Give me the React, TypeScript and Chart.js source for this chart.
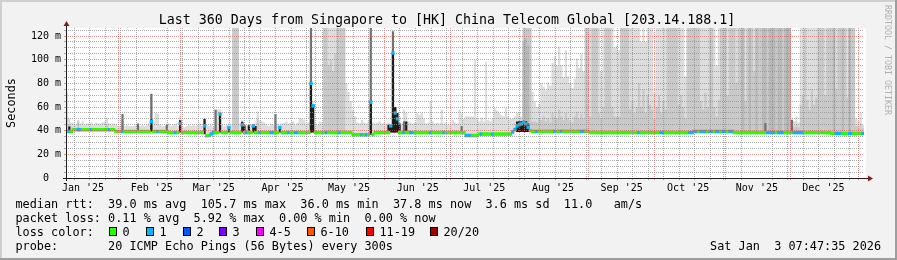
import React, { useEffect, useRef } from 'react';
import { Chart, registerables } from 'chart.js';

Chart.register(...registerables);

const W = 897;
const H = 260;
const DAYS = 360;
const START_UTC = Date.UTC(2025, 0, 8, 7, 47, 35);

const TITLE = 'Last 360 Days from Singapore to [HK] China Telecom Global [203.14.188.1]';
const Y_TICK_VALUES = [0, 20, 40, 60, 80, 100, 120];
const Y_TICK_LABELS = ['0  ', '20 m', '40 m', '60 m', '80 m', '100 m', '120 m'];
const MONTH_LABELS = ["Jan '25", "Feb '25", "Mar '25", "Apr '25", "May '25", "Jun '25",
  "Jul '25", "Aug '25", "Sep '25", "Oct '25", "Nov '25", "Dec '25"];

const LEGEND_RTT = 'median rtt:  39.0 ms avg  105.7 ms max  36.0 ms min  37.8 ms now  3.6 ms sd  11.0   am/s';
const LEGEND_LOSS = 'packet loss: 0.11 % avg  5.92 % max  0.00 % min  0.00 % now';
const LEGEND_PROBE = 'probe:       20 ICMP Echo Pings (56 Bytes) every 300s';
const STAMP = 'Sat Jan  3 07:47:35 2026';
const WATERMARK = 'RRDTOOL / TOBI OETIKER';
const LOSS_LABELS = ['0', '1', '2', '3', '4-5', '6-10', '11-19', '20/20'];
const LOSS_COLORS = ['#26ff00', '#00b8ff', '#0059ff', '#7e00ff', '#ff00ff', '#ff5500', '#ff0000', '#a10000'];

// baseline median rtt (ms): [firstDay, lastDay, value]
const MEDIAN_RUNS = [
  [0, 2, 39.4], [3, 21, 40.8], [22, 45, 39.3], [46, 61, 38.4], [62, 62, 37.0], [63, 63, 35.7],
  [64, 64, 35.9], [65, 65, 37.2], [66, 128, 38.4], [129, 138, 36.6], [139, 179, 38.4],
  [180, 185, 35.9], [186, 200, 37.1], [201, 209, 38.8], [210, 235, 39.4], [236, 282, 38.4],
  [283, 300, 39.3], [301, 344, 38.4], [345, 359, 37.6],
];
// days where the median mark sits above the baseline: [day, ms]
const MEDIAN_SHIFTS = [
  [38, 47.6], [51, 46.0], [62, 44.0], [69, 54.0], [73, 42.5], [79, 45.0], [84, 44.0], [96, 42.6],
  [110, 80.0], [111, 61.0], [137, 64.0], [146, 44.0], [147, 105.7], [148, 55.0], [149, 50.0],
  [202, 41.0], [203, 44.0], [204, 45.2], [205, 45.7], [206, 47.0], [207, 45.7], [208, 42.9], [209, 40.0],
];
// days with loss colour "1"
const LOSS1_DAYS = [
  1, 5, 6, 11, 19, 25, 38, 41, 49, 51, 62, 65, 66, 69, 73, 79, 81, 84, 87, 92, 93, 96, 100, 103, 104,
  110, 111, 117, 123, 133, 135, 137, 146, 147, 148, 149, 152, 155, 156, 164, 170, 180, 181, 182, 187,
  192, 201, 202, 203, 204, 205, 206, 207, 208, 212, 220, 223, 232, 233, 258, 268, 269, 281, 282, 283,
  284, 286, 287, 288, 290, 291, 293, 294, 296, 297, 299, 300, 316, 317, 318, 319, 321, 322, 323, 328,
  329, 330, 331, 332, 347, 348, 349, 353, 354, 359,
];

// outer (light) smoke top per day, ms (200 = beyond the top)
const SMOKE_LIGHT = [
  73, 50, 47, 46, 45, 49, 46, 48, 45, 46,
  46, 47, 45, 47, 46, 46, 47, 48, 51, 46,
  45, 46, 45, 44, 44, 48, 44, 45, 44, 44,
  44, 45, 46, 44, 45, 44, 45, 46, 72, 47,
  55, 54, 45, 44, 44, 46, 46, 44, 45, 46,
  44, 52, 44, 43, 44, 45, 44, 45, 44, 45,
  46, 44, 51, 45, 44, 45, 44, 58, 58, 58,
  45, 44, 45, 46, 45, 200, 200, 200, 46, 49,
  46, 45, 44, 45, 46, 47, 56, 49, 48, 47,
  45, 44, 46, 45, 54, 46, 45, 46, 47, 48,
  46, 47, 48, 45, 47, 51, 50, 49, 46, 47,
  80, 65, 46, 45, 48, 47, 200, 200, 200, 200,
  200, 200, 200, 200, 200, 200, 80, 73, 65, 58,
  52, 47, 46, 49, 47, 46, 48, 65, 47, 46,
  47, 48, 46, 47, 46, 47, 45, 106, 60, 55,
  52, 46, 58, 55, 48, 47, 46, 47, 55, 53,
  55, 50, 46, 47, 65, 48, 46, 47, 46, 58,
  46, 47, 45, 46, 49, 47, 46, 58, 55, 50,
  52, 52, 52, 52, 100, 50, 48, 51, 48, 98,
  49, 48, 50, 59, 57, 55, 53, 52, 59, 52,
  50, 50, 52, 55, 55, 52, 200, 200, 200, 200,
  73, 65, 60, 63, 80, 77, 74, 81, 78, 97,
  103, 95, 111, 95, 85, 108, 86, 80, 76, 84,
  101, 93, 105, 90, 200, 200, 200, 200, 200, 200,
  200, 90, 200, 200, 200, 200, 200, 110, 112, 108,
  200, 200, 200, 200, 200, 200, 200, 200, 200, 115,
  200, 115, 200, 200, 200, 72, 200, 200, 200, 200,
  200, 200, 200, 200, 200, 200, 200, 200, 200, 86,
  200, 200, 200, 200, 200, 200, 200, 200, 200, 200,
  200, 200, 200, 95, 200, 200, 200, 200, 200, 200,
  200, 200, 200, 200, 200, 200, 200, 200, 200, 200,
  200, 200, 200, 200, 200, 200, 200, 200, 200, 200,
  200, 200, 200, 200, 200, 200, 200, 50, 48, 52,
  47, 200, 200, 200, 200, 200, 200, 200, 200, 200,
  200, 200, 200, 200, 200, 200, 200, 200, 200, 200,
  200, 200, 200, 200, 200, 200, 50, 48, 55, 45,
];

// middle grey smoke top per day, ms (0 = none)
const SMOKE_MID = [
  52, 45, 43, 0, 0, 48, 0, 0, 0, 0,
  0, 0, 0, 0, 0, 0, 0, 0, 45, 0,
  0, 0, 0, 0, 0, 46, 0, 0, 0, 0,
  0, 0, 0, 0, 0, 0, 0, 0, 0, 0,
  0, 0, 0, 0, 0, 0, 0, 0, 0, 0,
  0, 0, 0, 0, 0, 0, 0, 0, 0, 0,
  0, 0, 0, 0, 0, 0, 0, 0, 0, 0,
  0, 0, 0, 0, 0, 200, 200, 200, 0, 0,
  0, 0, 0, 0, 0, 0, 50, 0, 0, 0,
  0, 0, 0, 0, 0, 0, 0, 0, 0, 0,
  0, 0, 0, 0, 0, 0, 0, 0, 0, 0,
  0, 0, 0, 0, 0, 0, 200, 200, 95, 100,
  90, 105, 200, 200, 200, 200, 0, 0, 0, 0,
  0, 0, 0, 0, 0, 0, 0, 0, 0, 0,
  0, 0, 0, 0, 0, 0, 0, 0, 0, 0,
  0, 0, 0, 0, 0, 0, 0, 0, 0, 0,
  0, 0, 0, 0, 0, 0, 0, 0, 0, 0,
  0, 0, 0, 0, 0, 0, 0, 0, 0, 0,
  0, 0, 0, 0, 0, 0, 0, 0, 0, 0,
  0, 0, 0, 0, 0, 0, 0, 0, 0, 0,
  0, 0, 0, 0, 0, 0, 200, 200, 200, 200,
  48, 48, 47, 50, 49, 52, 48, 50, 47, 55,
  52, 50, 58, 52, 49, 55, 50, 48, 47, 52,
  56, 50, 54, 50, 200, 200, 52, 200, 200, 200,
  55, 50, 60, 200, 200, 200, 60, 52, 52, 52,
  200, 200, 200, 200, 58, 65, 55, 60, 80, 60,
  75, 55, 70, 62, 58, 50, 60, 70, 55, 65,
  58, 200, 200, 200, 200, 200, 62, 70, 60, 50,
  200, 200, 200, 200, 200, 200, 65, 58, 72, 60,
  200, 200, 60, 52, 66, 200, 200, 200, 70, 200,
  200, 200, 80, 200, 200, 200, 65, 200, 200, 200,
  90, 200, 200, 200, 200, 200, 200, 200, 200, 200,
  200, 200, 200, 200, 200, 200, 200, 44, 43, 45,
  43, 62, 70, 200, 66, 58, 75, 62, 68, 200,
  200, 200, 70, 200, 200, 200, 200, 75, 200, 200,
  200, 200, 68, 200, 200, 200, 44, 43, 46, 42,
];

// darker grey smoke: [day, top ms]
const SMOKE_GREY = [
  [206, 115], [207, 118], [208, 112], [305, 200], [308, 200], [311, 200], [314, 200], [315, 200],
  [317, 200], [318, 200], [319, 200], [321, 200], [322, 200], [324, 200], [325, 200], [326, 200],
  [346, 200], [350, 200], [353, 200],
];
// thin dark spikes: [day, top ms]
const SMOKE_DARK = [
  [25, 54], [32, 46], [38, 71], [45, 45], [67, 57.7], [94, 54], [110, 130], [137, 130], [147, 124],
  [148, 60], [152, 48], [178, 44], [315, 46.5], [327, 49],
];
// black spikes: [day, top ms]
const SMOKE_BLACK = [
  [1, 43.5], [38, 49.5], [51, 49.0], [62, 49.8], [69, 54.5], [73, 43.6], [79, 47.6], [80, 44.4],
  [82, 44.5], [84, 45.0], [85, 44.0], [96, 43.6], [110, 80.0], [111, 62.0], [137, 64.7], [145, 45.0],
  [146, 44.5], [147, 105.7], [148, 60.0], [149, 55.0], [150, 46.0], [153, 47.8], [203, 47.8],
  [204, 48.0], [205, 48.0], [206, 48.5], [207, 48.0], [208, 46.0],
];

const BACK = '#f2f2f2';
const SHADE_A = '#cfcfcf';
const SHADE_B = '#9e9e9e';
const GRID = 'rgba(143,143,143,0.75)';
const MGRID = 'rgba(222,79,79,0.6)';
const AXIS = '#1f1f1f';
const ARROW = '#801f1f';
const MONO = '"DejaVu Sans Mono", monospace';
const BAND = 1.15;

function expandRuns(runs: number[][]) {
  const out = new Array(DAYS).fill(0);
  for (const [a, b, v] of runs) for (let d = a; d <= b; d++) out[d] = v;
  return out;
}
function sparseDays(list: number[][]) {
  const out = new Array(DAYS).fill(0);
  for (const [d, v] of list) out[d] = v;
  return out;
}
const dayOf = (y: number, m: number, d: number) => (Date.UTC(y, m, d) - START_UTC) / 86400000;

export default function App() {
  const ref = useRef<HTMLCanvasElement | null>(null);

  useEffect(() => {
    const canvas = ref.current;
    if (!canvas) return;

    const base = expandRuns(MEDIAN_RUNS);
    const median = base.slice();
    for (const [d, v] of MEDIAN_SHIFTS) median[d] = v;
    const loss = new Array(DAYS).fill(0);
    for (const d of LOSS1_DAYS) loss[d] = 1;

    const layer = (tops: number[]) => {
      const pts = tops.map((t, i) => ({ x: i, y: t > 0 ? Math.max(t, base[i]) : base[i] }));
      pts.push({ x: DAYS, y: pts[DAYS - 1].y });
      return pts;
    };
    const smoke = (label: string, tops: number[], color: string) => ({
      type: 'line' as const,
      label,
      data: layer(tops),
      stepped: true,
      borderColor: 'rgba(0,0,0,0)',
      borderWidth: 0,
      pointRadius: 0,
      pointHoverRadius: 0,
      backgroundColor: color,
      fill: 6,
      tension: 0,
    });

    // x axis ticks: weekly (Sunday) minor lines, month-start major lines, mid-month labels
    const kinds = new Map<number, string>();
    const labels = new Map<number, string>();
    for (let v = dayOf(2025, 0, 12); v < DAYS; v += 7) kinds.set(v, 'minor');
    for (let m = 1; m <= 12; m++) kinds.set(dayOf(2025, m, 1), 'major');
    MONTH_LABELS.forEach((lab, m) => {
      const v = dayOf(2025, m, 16);
      kinds.set(v, 'label');
      labels.set(v, lab);
    });
    const xTickValues = Array.from(kinds.keys()).sort((a, b) => a - b);
    const yTickValues: number[] = [];
    for (let v = 0; v <= 125; v += 5) yTickValues.push(v);

    const framePlugin = {
      id: 'frame',
      beforeDraw(chart: any) {
        const { ctx, chartArea: a } = chart;
        ctx.save();
        ctx.fillStyle = BACK;
        ctx.fillRect(0, 0, W, H);
        ctx.fillStyle = SHADE_A;
        ctx.fillRect(0, 0, W, 2);
        ctx.fillRect(0, 0, 2, H);
        ctx.fillStyle = SHADE_B;
        ctx.fillRect(0, H - 2, W, 2);
        ctx.fillRect(W - 2, 0, 2, H);
        ctx.fillStyle = '#ffffff';
        ctx.fillRect(a.left, a.top, a.right - a.left + 2, a.bottom - a.top);
        ctx.restore();
      },
      afterDraw(chart: any) {
        const { ctx, chartArea: a } = chart;
        ctx.save();
        // axes
        ctx.strokeStyle = AXIS;
        ctx.lineWidth = 1;
        ctx.beginPath();
        ctx.moveTo(a.left + 0.5, a.bottom + 3);
        ctx.lineTo(a.left + 0.5, a.top - 3);
        ctx.moveTo(a.left - 3, a.bottom + 0.5);
        ctx.lineTo(a.right + 4, a.bottom + 0.5);
        ctx.stroke();
        ctx.fillStyle = ARROW;
        ctx.beginPath();
        ctx.moveTo(a.left + 0.5, a.top - 7);
        ctx.lineTo(a.left - 2.5, a.top - 2);
        ctx.lineTo(a.left + 3.5, a.top - 2);
        ctx.closePath();
        ctx.fill();
        ctx.beginPath();
        ctx.moveTo(a.right + 9, a.bottom + 0.5);
        ctx.lineTo(a.right + 4, a.bottom - 2.5);
        ctx.lineTo(a.right + 4, a.bottom + 3.5);
        ctx.closePath();
        ctx.fill();

        // title
        ctx.fillStyle = '#000';
        ctx.textBaseline = 'alphabetic';
        ctx.font = `13.3px ${MONO}`;
        ctx.textAlign = 'center';
        ctx.fillText(TITLE, 447, 24);

        // y axis title
        ctx.save();
        ctx.font = `11.83px ${MONO}`;
        ctx.translate(15, (a.top + a.bottom) / 2);
        ctx.rotate(-Math.PI / 2);
        ctx.fillText('Seconds', 0, 0);
        ctx.restore();

        // watermark
        ctx.save();
        ctx.font = `8.3px ${MONO}`;
        ctx.fillStyle = '#b0b0b0';
        ctx.textAlign = 'left';
        ctx.translate(884.5, 5);
        ctx.rotate(Math.PI / 2);
        ctx.fillText(WATERMARK, 0, 0);
        ctx.restore();

        // legend
        ctx.font = `11.83px ${MONO}`;
        ctx.textAlign = 'left';
        ctx.fillStyle = '#000';
        ctx.fillText(LEGEND_RTT, 15.5, 208.3);
        ctx.fillText(LEGEND_LOSS, 15.5, 222.2);
        ctx.fillText('loss color:', 15.5, 235.9);
        const boxX = [109, 146, 183, 219, 256, 307, 366, 430];
        LOSS_LABELS.forEach((lab, k) => {
          const x = boxX[k];
          ctx.fillStyle = LOSS_COLORS[k];
          ctx.fillRect(x, 227, 8, 9);
          ctx.strokeStyle = '#000';
          ctx.strokeRect(x + 0.5, 227.5, 7, 8);
          ctx.fillStyle = '#000';
          ctx.fillText(lab, x + 13.5, 235.9);
        });
        ctx.fillText(LEGEND_PROBE, 15.5, 249.6);
        ctx.textAlign = 'right';
        ctx.fillText(STAMP, 881, 249.6);
        ctx.restore();
      },
    };

    const chart = new Chart(canvas, {
      type: 'bar',
      data: {
        datasets: [
          {
            type: 'bar',
            label: 'median',
            data: median.map((m, i) => ({ x: i + 0.5, y: [m - BAND, m + BAND] })) as any,
            backgroundColor: loss.map((l) => LOSS_COLORS[l]),
            borderWidth: 0,
            barThickness: 2.7,
            grouped: false,
          },
          smoke('black', sparseDays(SMOKE_BLACK), '#1c1c1c'),
          smoke('dark', sparseDays(SMOKE_DARK), '#707070'),
          smoke('grey', sparseDays(SMOKE_GREY), '#b8b8b8'),
          smoke('mid', SMOKE_MID, '#c9c9c9'),
          smoke('light', SMOKE_LIGHT, '#dddddd'),
          {
            type: 'line',
            label: 'base',
            data: layer(new Array(DAYS).fill(0)),
            stepped: true,
            borderColor: 'rgba(0,0,0,0)',
            borderWidth: 0,
            pointRadius: 0,
            fill: false,
          },
        ] as any,
      },
      options: {
        animation: false,
        responsive: false,
        devicePixelRatio: 1,
        events: [],
        layout: { padding: { left: 0, right: 33, top: 28, bottom: 0 } },
        plugins: { legend: { display: false }, tooltip: { enabled: false }, title: { display: false } },
        scales: {
          x: {
            type: 'linear',
            min: 0,
            max: DAYS,
            offset: false,
            afterBuildTicks: (s: any) => {
              s.ticks = xTickValues.map((v) => ({ value: v }));
            },
            afterFit: (s: any) => {
              s.height = 82;
            },
            ticks: {
              autoSkip: false,
              maxRotation: 0,
              minRotation: 0,
              padding: 2,
              color: '#000',
              font: { family: MONO, size: 10 },
              callback: (v: any) => labels.get(Number(v)) || '',
            },
            grid: {
              z: 1,
              offset: false,
              lineWidth: 1,
              drawTicks: true,
              tickLength: 2,
              color: (c: any) => {
                const k = kinds.get(c.tick?.value);
                return k === 'major' ? MGRID : k === 'minor' ? GRID : 'rgba(0,0,0,0)';
              },
              tickColor: (c: any) => {
                const k = kinds.get(c.tick?.value);
                return k === 'major' ? MGRID : k === 'minor' ? GRID : 'rgba(0,0,0,0)';
              },
            },
            border: { display: false, dash: [1, 1] },
          },
          y: {
            type: 'linear',
            min: 0,
            max: 126.8,
            afterBuildTicks: (s: any) => {
              s.ticks = yTickValues.map((v) => ({ value: v }));
            },
            afterFit: (s: any) => {
              s.width = 66;
            },
            ticks: {
              autoSkip: false,
              padding: 3,
              color: '#000',
              font: { family: MONO, size: 10 },
              callback: (v: any) => {
                const idx = Y_TICK_VALUES.indexOf(Number(v));
                return idx >= 0 ? Y_TICK_LABELS[idx] : '';
              },
            },
            grid: {
              z: 1,
              lineWidth: 1,
              drawTicks: true,
              tickLength: 2,
              color: (c: any) => (c.tick && c.tick.value % 20 === 0 ? MGRID : GRID),
              tickColor: (c: any) => (c.tick && c.tick.value % 20 === 0 ? MGRID : GRID),
            },
            border: { display: false, dash: [1, 1] },
          },
        },
      } as any,
      plugins: [framePlugin],
    });

    return () => chart.destroy();
  }, []);

  return (
    <div style={{ position: 'fixed', left: 0, top: 0, width: W, height: H }}>
      <canvas ref={ref} width={W} height={H} style={{ display: 'block', width: W, height: H }} />
    </div>
  );
}
